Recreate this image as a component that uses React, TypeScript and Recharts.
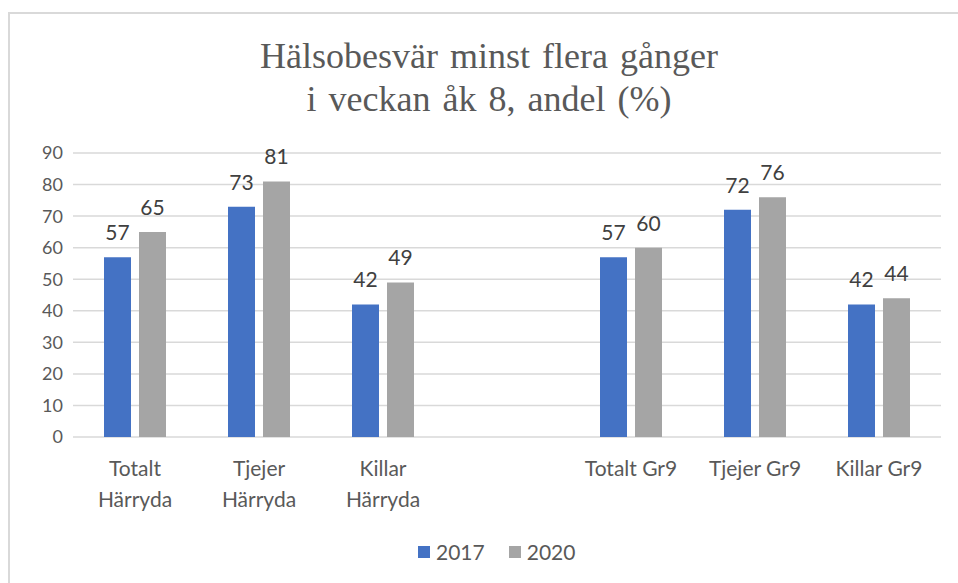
import React from 'react';
import { Bar, BarChart, CartesianGrid, LabelList, XAxis, YAxis } from 'recharts';

const categories = [
  'Totalt\nHärryda',
  'Tjejer\nHärryda',
  'Killar\nHärryda',
  '',
  'Totalt Gr9',
  'Tjejer Gr9',
  'Killar Gr9',
];
const values2017 = [57, 73, 42, null, 57, 72, 42];
const values2020 = [65, 81, 49, null, 60, 76, 44];
const yTicks = [0, 10, 20, 30, 40, 50, 60, 70, 80, 90];
const seriesNames = ['2017', '2020'];
const seriesColors = ['#4472C4', '#A5A5A5'];

const titleLines = ['Hälsobesvär minst flera gånger', 'i veckan åk 8, andel (%)'];

const FONT = 'Lato, "Noto Sans", sans-serif';

const data = categories.map((name, i) => ({
  name,
  y2017: values2017[i],
  y2020: values2020[i],
}));

const CategoryTick = (props: any) => {
  const { x, y, payload } = props;
  const lines = String(payload.value).split('\n');
  return (
    <text x={x} y={y} textAnchor="middle" fill="#595959" fontSize={21} fontFamily={FONT}>
      {lines.map((line, i) => (
        <tspan key={i} x={x} dy={i === 0 ? 39 : 31}>
          {line}
        </tspan>
      ))}
    </text>
  );
};

const ValueLabel = (props: any) => {
  const { x, y, width, value } = props;
  if (value === null || value === undefined) return null;
  return (
    <text x={x + width / 2} y={y - 17} textAnchor="middle" fill="#404040" fontSize={21} fontFamily={FONT}>
      {value}
    </text>
  );
};

const App: React.FC = () => {
  return (
    <div
      style={{
        position: 'absolute',
        left: 0,
        top: 0,
        width: 958,
        height: 583,
        overflow: 'hidden',
        background: '#fff',
      }}
    >
      <div
        style={{
          position: 'absolute',
          left: 8,
          top: 12,
          width: 980,
          height: 620,
          borderLeft: '2px solid #D9D9D9',
          borderTop: '2px solid #D9D9D9',
        }}
      />
      <div
        style={{
          position: 'absolute',
          left: 189,
          top: 35,
          width: 600,
          textAlign: 'center',
          fontFamily: '"Liberation Serif", "Times New Roman", serif',
          fontSize: 36,
          lineHeight: '43px',
          color: '#595959',
          wordSpacing: 3,
        }}
      >
        {titleLines.map((line) => (
          <div key={line}>{line}</div>
        ))}
      </div>
      <div style={{ position: 'absolute', left: 0, top: 0 }}>
        <BarChart
          width={958}
          height={583}
          data={data}
          margin={{ top: 153, right: 17, left: 13, bottom: 116 }}
          barGap={8}
          barSize={27}
        >
          <CartesianGrid vertical={false} stroke="#D9D9D9" strokeWidth={1.5} />
          <XAxis
            dataKey="name"
            axisLine={false}
            tickLine={false}
            tickSize={0}
            tickMargin={0}
            interval={0}
            tick={<CategoryTick />}
          />
          <YAxis
            width={60}
            domain={[0, 90]}
            ticks={yTicks}
            axisLine={false}
            tickLine={false}
            tickSize={0}
            tickMargin={10}
            tick={{ fill: '#595959', fontSize: 18, fontFamily: FONT }}
          />
          <Bar dataKey="y2017" name={seriesNames[0]} fill={seriesColors[0]} isAnimationActive={false}>
            <LabelList dataKey="y2017" content={<ValueLabel />} />
          </Bar>
          <Bar dataKey="y2020" name={seriesNames[1]} fill={seriesColors[1]} isAnimationActive={false}>
            <LabelList dataKey="y2020" content={<ValueLabel />} />
          </Bar>
        </BarChart>
      </div>
      <div
        style={{
          position: 'absolute',
          left: 418,
          top: 540,
          display: 'flex',
          alignItems: 'center',
          fontFamily: FONT,
          fontSize: 21,
          lineHeight: '24px',
          color: '#595959',
        }}
      >
        {seriesNames.map((name, i) => (
          <div key={name} style={{ display: 'flex', alignItems: 'center', marginRight: 24 }}>
            <span
              style={{
                display: 'inline-block',
                width: 12,
                height: 12,
                background: seriesColors[i],
                marginRight: 6,
              }}
            />
            <span>{name}</span>
          </div>
        ))}
      </div>
    </div>
  );
};

export default App;
